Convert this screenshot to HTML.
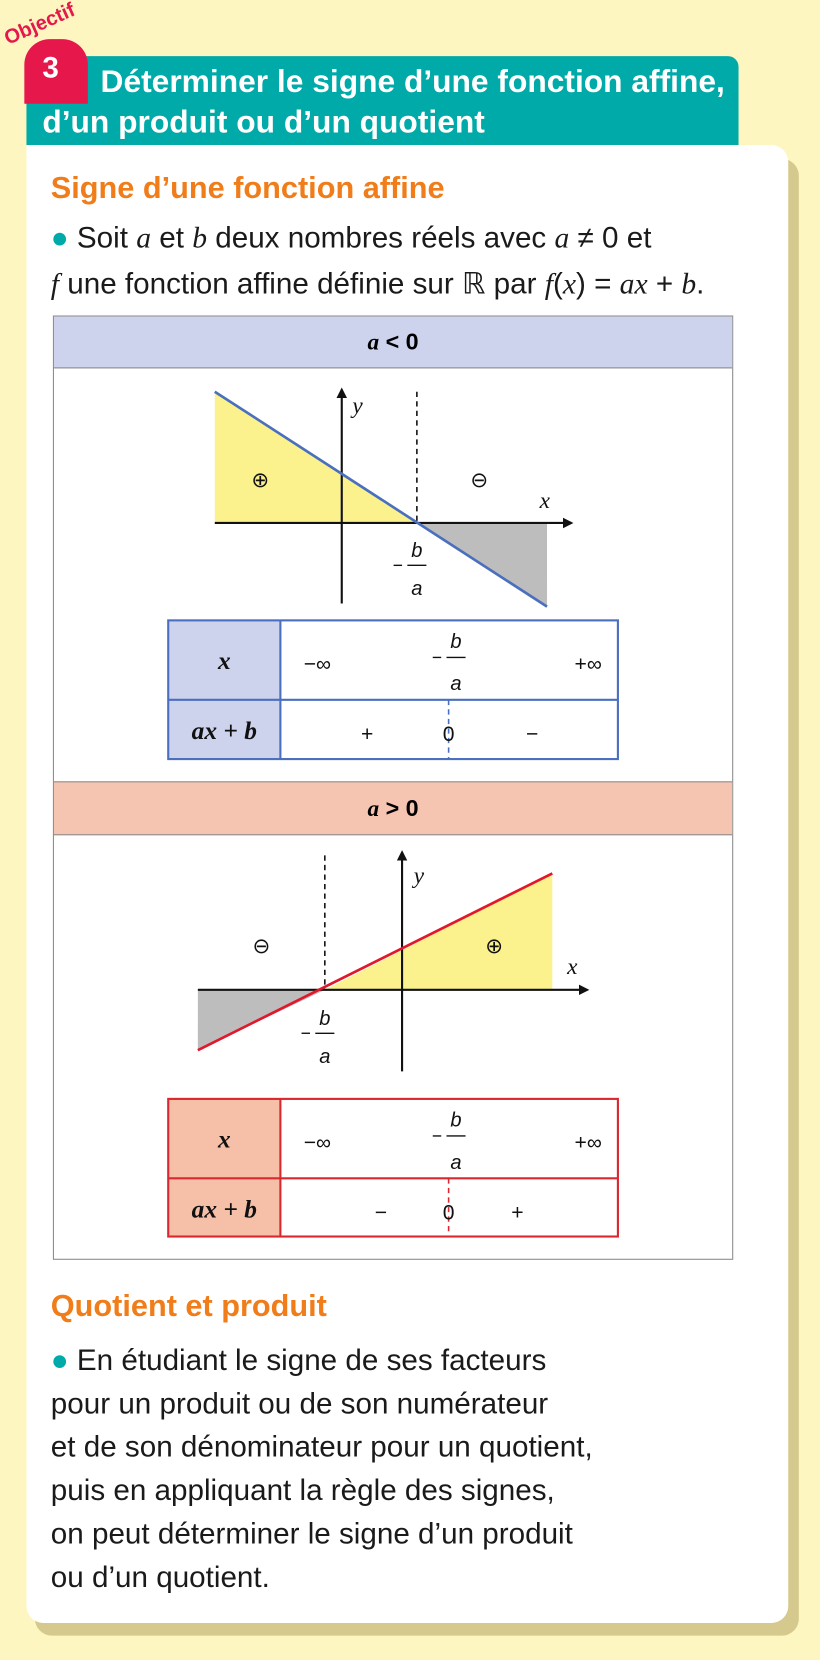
<!DOCTYPE html>
<html><head><meta charset="utf-8"><style>
html,body{margin:0;padding:0;background:#fef6c0;width:820px;height:1660px;overflow:hidden}
#w{position:absolute;left:0;top:0;width:775px;height:1568px;transform:scale(1.05806,1.05867);transform-origin:0 0;font-family:"Liberation Sans Narrow","Liberation Sans",sans-serif}
.a{position:absolute}
.t{font-size:28px;color:#1a1a1a;white-space:nowrap}
i{font-family:"Liberation Serif",serif}
</style></head><body><div id="w">
<div class="a" style="left:33px;top:150px;width:722px;height:1395px;background:#d5c98e;border-radius:0 16px 16px 16px"></div>
<div class="a" style="left:25px;top:137px;width:720px;height:1396px;background:#fff;border-radius:0 16px 16px 16px"></div>
<div class="a" style="left:25px;top:53px;width:673px;height:84px;background:#00aaa8;border-radius:0 10px 0 0"></div>
<div class="a" style="left:23px;top:37px;width:60px;height:61px;background:#e5174b;border-radius:24px 24px 0 0"></div>
<div class="a" style="left:40px;top:48px;color:#fff;font-weight:bold;font-size:28px">3</div>
<div class="a" style="left:10px;top:26px;color:#e5174b;font-weight:bold;font-size:19px;transform:rotate(-24deg);transform-origin:0 100%">Objectif</div>
<div class="a" style="left:95px;top:61px;color:#fff;font-weight:bold;font-size:30px;white-space:nowrap">Déterminer le signe d’une fonction affine,</div>
<div class="a" style="left:40px;top:99px;color:#fff;font-weight:bold;font-size:30px;white-space:nowrap">d’un produit ou d’un quotient</div>
<div class="a" style="left:48px;top:162px;color:#f07d1a;font-weight:bold;font-size:29px;white-space:nowrap">Signe d’une fonction affine</div>
<div class="a t" style="left:48px;top:209px"><span style="color:#00aaa8">&#9679;</span> Soit <i>a</i> et <i>b</i> deux nombres réels avec <i>a</i> ≠ 0 et</div>
<div class="a t" style="left:48px;top:251px"><i>f</i> une fonction affine définie sur ℝ par <i>f</i>(<i>x</i>) = <i>ax</i> + <i>b</i>.</div>
<div class="a" style="left:50px;top:298px;width:641px;height:890px;border:1.5px solid #8a8a8a"></div>
<div class="a" style="left:51px;top:299px;width:641px;height:48px;background:#cdd3ec;border-bottom:1.5px solid #8a8a8a;text-align:center;line-height:48px;font-size:22px;font-weight:bold"><i>a</i> &lt; 0</div>
<div class="a" style="left:51px;top:738px;width:641px;height:49px;background:#f6c5b1;border-top:1.5px solid #8a8a8a;border-bottom:1.5px solid #8a8a8a;text-align:center;line-height:49px;font-size:22px;font-weight:bold"><i>a</i> &gt; 0</div>
<svg class="a" style="left:0;top:0" width="775" height="1568">
<defs><marker id="ar" markerWidth="10" markerHeight="10" refX="8" refY="5" orient="auto" markerUnits="userSpaceOnUse"><path d="M0,0 L10,5 L0,10 z" fill="#111"/></marker></defs>
<polygon points="203,370 203,494 394,494" fill="#fbf28e"/>
<polygon points="394,494 517,494 517,573" fill="#bdbdbd"/>
<line x1="203" y1="494" x2="540" y2="494" stroke="#111" stroke-width="2" marker-end="url(#ar)"/>
<line x1="323" y1="570" x2="323" y2="368" stroke="#111" stroke-width="2" marker-end="url(#ar)"/>
<line x1="394" y1="370" x2="394" y2="494" stroke="#111" stroke-width="1.5" stroke-dasharray="5,4"/>
<line x1="203" y1="370" x2="517" y2="573" stroke="#4a6fbf" stroke-width="2.5"/>
<polygon points="307,935 522,825 522,935" fill="#fbf28e"/>
<polygon points="187,935 307,935 187,992" fill="#bdbdbd"/>
<line x1="187" y1="935" x2="555" y2="935" stroke="#111" stroke-width="2" marker-end="url(#ar)"/>
<line x1="380" y1="1012" x2="380" y2="805" stroke="#111" stroke-width="2" marker-end="url(#ar)"/>
<line x1="307" y1="808" x2="307" y2="935" stroke="#111" stroke-width="1.5" stroke-dasharray="5,4"/>
<line x1="187" y1="992" x2="522" y2="825" stroke="#e3172b" stroke-width="2.5"/>
<g font-family="Liberation Serif,serif" font-style="italic" font-size="22" fill="#111">
<text x="333" y="390">y</text><text x="510" y="480">x</text>
<text x="391" y="834">y</text><text x="536" y="920">x</text>
</g>
<g font-family="DejaVu Sans,sans-serif" font-size="20" fill="#111" text-anchor="middle">
<text x="246" y="460">⊕</text><text x="453" y="460">⊖</text>
<text x="247" y="900">⊖</text><text x="467" y="900">⊕</text>
</g>
<g font-family="Liberation Sans,sans-serif" font-style="italic" font-size="19" fill="#111" text-anchor="middle">
<text x="394" y="526">b</text><text x="394" y="562">a</text>
<text x="307" y="968">b</text><text x="307" y="1004">a</text>
<text x="431" y="612">b</text><text x="431" y="652">a</text>
<text x="431" y="1064">b</text><text x="431" y="1104">a</text>
</g>
<g stroke="#111" stroke-width="1.3">
<line x1="385" y1="534" x2="403" y2="534"/><line x1="372" y1="534" x2="380" y2="534"/>
<line x1="298" y1="976" x2="316" y2="976"/><line x1="285" y1="976" x2="293" y2="976"/>
<line x1="422" y1="621" x2="440" y2="621"/><line x1="409" y1="621" x2="417" y2="621"/>
<line x1="422" y1="1073" x2="440" y2="1073"/><line x1="409" y1="1073" x2="417" y2="1073"/>
</g>
<rect x="159" y="586" width="106" height="131" fill="#cdd3ec"/>
<rect x="159" y="586" width="425" height="131" fill="none" stroke="#4a6fbf" stroke-width="2"/>
<line x1="265" y1="586" x2="265" y2="717" stroke="#4a6fbf" stroke-width="2"/>
<line x1="159" y1="661" x2="584" y2="661" stroke="#4a6fbf" stroke-width="2"/>
<line x1="424" y1="661" x2="424" y2="717" stroke="#4a6fbf" stroke-width="1.5" stroke-dasharray="5,4"/>
<rect x="159" y="1038" width="106" height="130" fill="#f6c0a8"/>
<rect x="159" y="1038" width="425" height="130" fill="none" stroke="#d9282f" stroke-width="2"/>
<line x1="265" y1="1038" x2="265" y2="1168" stroke="#d9282f" stroke-width="2"/>
<line x1="159" y1="1113" x2="584" y2="1113" stroke="#d9282f" stroke-width="2"/>
<line x1="424" y1="1113" x2="424" y2="1168" stroke="#d9282f" stroke-width="1.5" stroke-dasharray="5,4"/>
<g font-family="Liberation Sans,sans-serif" font-size="20" fill="#111" text-anchor="middle">
<text x="300" y="634">−∞</text><text x="556" y="634">+∞</text>
<text x="347" y="700">+</text><text x="424" y="700">0</text><text x="503" y="700">−</text>
<text x="300" y="1086">−∞</text><text x="556" y="1086">+∞</text>
<text x="360" y="1152">−</text><text x="424" y="1152">0</text><text x="489" y="1152">+</text>
</g>
<g font-family="Liberation Serif,serif" font-style="italic" font-weight="bold" font-size="24" fill="#111" text-anchor="middle">
<text x="212" y="632">x</text><text x="212" y="698">ax + b</text>
<text x="212" y="1084">x</text><text x="212" y="1150">ax + b</text>
</g>
</svg>
<div class="a" style="left:48px;top:1218px;color:#f07d1a;font-weight:bold;font-size:29px;white-space:nowrap">Quotient et produit</div>
<div class="a t" style="left:48px;top:1264px;line-height:41px"><span style="color:#00aaa8">&#9679;</span> En étudiant le signe de ses facteurs<br>pour un produit ou de son numérateur<br>et de son dénominateur pour un quotient,<br>puis en appliquant la règle des signes,<br>on peut déterminer le signe d’un produit<br>ou d’un quotient.</div>
</div></body></html>
